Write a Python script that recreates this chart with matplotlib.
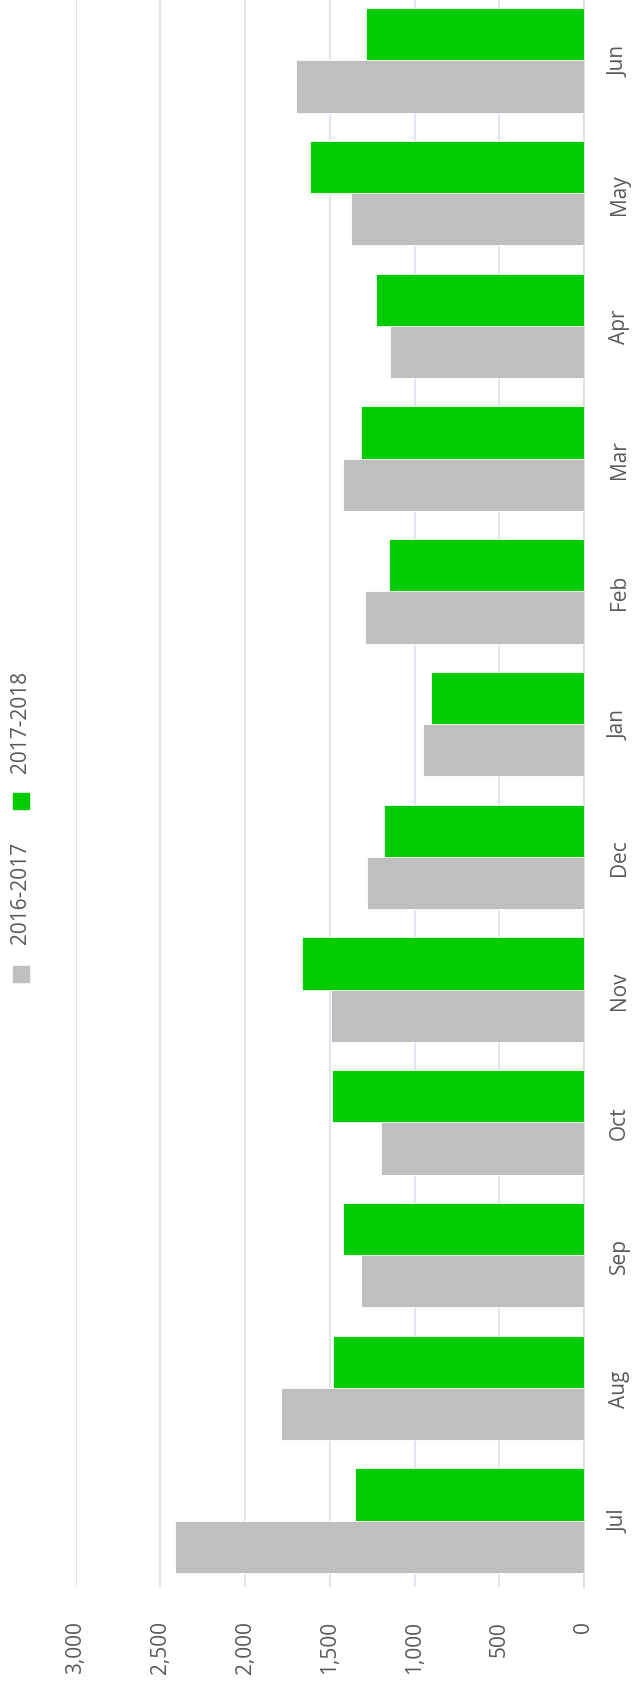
import numpy as np
import matplotlib
matplotlib.use("Agg")
import matplotlib.pyplot as plt
from matplotlib.patches import Rectangle

months = ["Jul", "Aug", "Sep", "Oct", "Nov", "Dec", "Jan", "Feb", "Mar", "Apr", "May", "Jun"]
s_2016 = [2415, 1786, 1316, 1195, 1494, 1278, 950, 1293, 1424, 1142, 1372, 1700]
s_2017 = [1350, 1482, 1424, 1488, 1666, 1182, 904, 1151, 1316, 1230, 1617, 1288]
labels = ["2016-2017", "2017-2018"]
value_ticks = [0, 500, 1000, 1500, 2000, 2500, 3000]

GRAY, GREEN, TXT, GRID = "#bfbfbf", "#00cc00", "#595959", "#d9e2ef"
plt.rcParams["font.family"] = ["Open Sans", "DejaVu Sans"]

W, H = 636, 1690
fig = plt.figure(figsize=(W / 100, H / 100), dpi=100)
# axes box in pixels: left 75.5, right 584, top -5, bottom 1588
ax = fig.add_axes([75.5 / W, (H - 1588) / H, (584 - 75.5) / W, (1588 + 5) / H])

y = np.arange(len(months))
bw = 0.394
ax.barh(y - bw / 2, s_2016, height=bw, color=GRAY, edgecolor="white", linewidth=0.6, zorder=3)
ax.barh(y + bw / 2, s_2017, height=bw, color=GREEN, edgecolor="white", linewidth=0.6, zorder=3)

ax.set_xlim(3000, 0)
ax.set_ylim(-0.5, len(months) - 0.5)
ax.set_xticks(value_ticks)
ax.set_xticklabels([f"{v:,}" for v in value_ticks], rotation=90, ha="center", va="top")
ax.set_yticks(y)
ax.set_yticklabels(months, rotation=90, va="center", ha="left")
ax.yaxis.tick_right()
ax.tick_params(axis="x", length=0, pad=24, labelsize=15, labelcolor=TXT)
ax.tick_params(axis="y", length=0, pad=18, labelsize=15, labelcolor=TXT)
ax.grid(axis="x", color=GRID, lw=1.2, zorder=0)
for sp in ["top", "left", "bottom"]:
    ax.spines[sp].set_visible(False)
ax.spines["right"].set_color("#d9d9d9")
ax.spines["right"].set_linewidth(1.2)

# rotated legend drawn by hand
for col, lab, sq_y, tx_y in [(GRAY, labels[0], 967, 893), (GREEN, labels[1], 794, 722)]:
    fig.add_artist(Rectangle((13 / W, (H - sq_y - 16) / H), 16 / W, 16 / H,
                             transform=fig.transFigure, color=col))
    fig.text(21 / W, (H - tx_y) / H, lab, rotation=90, ha="center", va="center",
             fontsize=15, color=TXT)

fig.savefig("out.png", dpi=100)
